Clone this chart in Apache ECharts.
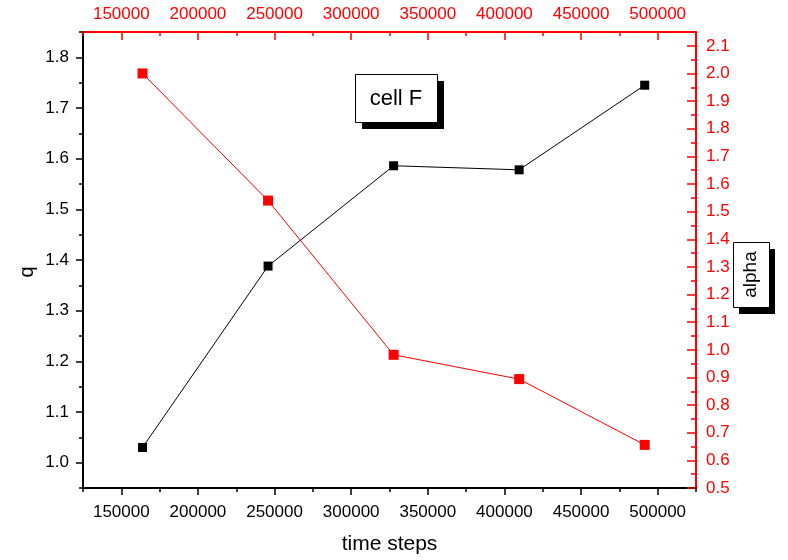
<!DOCTYPE html>
<html>
<head>
<meta charset="utf-8">
<script src="https://cdn.jsdelivr.net/npm/echarts@6/dist/echarts.min.js"></script>
<style>
  html, body { margin: 0; padding: 0; background: #fff; }
  #chart { width: 788px; height: 560px; }
</style>
</head>
<body>
<div id="chart"></div>
<script>
// Simulation time steps shared by both series
const timeSteps = [163840, 245760, 327680, 409600, 491520];
// q (left axis, black)
const qValues = [1.03, 1.388, 1.586, 1.578, 1.745];
// alpha (right axis, red)
const alphaValues = [2.0, 1.54, 0.982, 0.894, 0.656];

// Tick positions
const stepTicks = [150000, 200000, 250000, 300000, 350000, 400000, 450000, 500000];
const stepMinorTicks = [125000, 175000, 225000, 275000, 325000, 375000, 425000, 475000, 525000];
const qTicks = [1.0, 1.1, 1.2, 1.3, 1.4, 1.5, 1.6, 1.7, 1.8];
const qMinorTicks = [0.95, 1.05, 1.15, 1.25, 1.35, 1.45, 1.55, 1.65, 1.75, 1.85];
const alphaTicks = [0.5, 0.6, 0.7, 0.8, 0.9, 1.0, 1.1, 1.2, 1.3, 1.4, 1.5, 1.6, 1.7, 1.8, 1.9, 2.0, 2.1];
const alphaMinorTicks = [0.55, 0.65, 0.75, 0.85, 0.95, 1.05, 1.15, 1.25, 1.35, 1.45, 1.55, 1.65, 1.75, 1.85, 1.95, 2.05, 2.15];

const FONT = 'Liberation Sans, Arial, sans-serif';
const BLACK = '#000000';
const RED = '#ff0000';
const TICK_FONT = 17;

const X_MIN = 125000, X_MAX = 525000;
const Q_MIN = 0.95, Q_MAX = 1.85;
const A_MIN = 0.5, A_MAX = 2.15;

function majorAxis(opts) {
  const color = opts.color;
  return Object.assign({
    type: 'value',
    gridIndex: 0,
    splitLine: { show: false },
    axisLine: { show: true, onZero: false, lineStyle: { color: color, width: 2 } },
    axisTick: {
      show: true, inside: opts.inside, length: opts.tickLen,
      customValues: opts.ticks,
      lineStyle: { color: color, width: 1.5 }
    },
    axisLabel: {
      show: true, customValues: opts.ticks, color: color,
      fontFamily: FONT, fontSize: TICK_FONT, margin: opts.margin,
      formatter: opts.formatter
    }
  }, opts.extra);
}

function minorAxis(opts) {
  return Object.assign({
    type: 'value',
    gridIndex: 0,
    splitLine: { show: false },
    axisLine: { show: false, onZero: false },
    axisLabel: { show: false },
    axisTick: {
      show: true, inside: opts.inside, length: opts.tickLen,
      customValues: opts.ticks,
      lineStyle: { color: opts.color, width: 1.5 }
    }
  }, opts.extra);
}

const chart = echarts.init(document.getElementById('chart'), null, { renderer: 'canvas' });

chart.setOption({
  animation: false,
  backgroundColor: '#ffffff',
  grid: { left: 83, top: 32, right: 92, bottom: 72, containLabel: false },
  xAxis: [
    majorAxis({
      color: BLACK, inside: false, tickLen: 7, margin: 16, ticks: stepTicks,
      formatter: v => String(Math.round(v)),
      extra: {
        position: 'bottom', min: X_MIN, max: X_MAX,
        name: 'time steps', nameLocation: 'middle', nameGap: 46,
        nameTextStyle: { fontFamily: FONT, fontSize: 21, color: BLACK }
      }
    }),
    majorAxis({
      color: RED, inside: true, tickLen: 8, margin: 9, ticks: stepTicks,
      formatter: v => String(Math.round(v)),
      extra: { position: 'top', min: X_MIN, max: X_MAX }
    }),
    minorAxis({ color: BLACK, inside: false, tickLen: 4, ticks: stepMinorTicks,
      extra: { position: 'bottom', min: X_MIN, max: X_MAX } }),
    minorAxis({ color: RED, inside: true, tickLen: 4, ticks: stepMinorTicks,
      extra: { position: 'top', min: X_MIN, max: X_MAX } })
  ],
  yAxis: [
    majorAxis({
      color: BLACK, inside: false, tickLen: 7, margin: 14, ticks: qTicks,
      formatter: v => v.toFixed(1),
      extra: { position: 'left', min: Q_MIN, max: Q_MAX }
    }),
    majorAxis({
      color: RED, inside: true, tickLen: 9, margin: 10, ticks: alphaTicks,
      formatter: v => v.toFixed(1),
      extra: { position: 'right', min: A_MIN, max: A_MAX }
    }),
    minorAxis({ color: BLACK, inside: false, tickLen: 4, ticks: qMinorTicks,
      extra: { position: 'left', min: Q_MIN, max: Q_MAX } }),
    minorAxis({ color: RED, inside: true, tickLen: 5, ticks: alphaMinorTicks,
      extra: { position: 'right', min: A_MIN, max: A_MAX } })
  ],
  series: [
    {
      name: 'q', type: 'line', xAxisIndex: 0, yAxisIndex: 0,
      data: timeSteps.map((t, i) => [t, qValues[i]]),
      symbol: 'rect', symbolSize: 9, showAllSymbol: true,
      lineStyle: { color: BLACK, width: 1 },
      itemStyle: { color: BLACK },
      z: 3
    },
    {
      name: 'alpha', type: 'line', xAxisIndex: 1, yAxisIndex: 1,
      data: timeSteps.map((t, i) => [t, alphaValues[i]]),
      symbol: 'rect', symbolSize: 10, showAllSymbol: true,
      lineStyle: { color: RED, width: 1 },
      itemStyle: { color: RED },
      z: 2
    }
  ],
  graphic: [
    // left axis title
    { type: 'text', x: 27, y: 272, rotation: Math.PI / 2,
      style: { text: 'q', fontFamily: FONT, fontSize: 20, fill: BLACK, align: 'center', verticalAlign: 'middle' }, z: 12 },
    // "cell F" label box with drop shadow
    { type: 'rect', left: 362, top: 81, shape: { width: 82, height: 48 }, style: { fill: BLACK }, z: 10 },
    { type: 'rect', left: 355, top: 74, shape: { width: 82, height: 48 }, style: { fill: '#fff', stroke: BLACK, lineWidth: 1 }, z: 11 },
    { type: 'text', x: 396, y: 99, style: { text: 'cell F', fontFamily: FONT, fontSize: 22, fill: BLACK, align: 'center', verticalAlign: 'middle' }, z: 12 },
    // "alpha" axis title box with drop shadow
    { type: 'rect', left: 739, top: 249, shape: { width: 36, height: 65 }, style: { fill: BLACK }, z: 10 },
    { type: 'rect', left: 733, top: 242, shape: { width: 36, height: 65 }, style: { fill: '#fff', stroke: BLACK, lineWidth: 1 }, z: 11 },
    { type: 'text', x: 751, y: 274.5, rotation: Math.PI / 2,
      style: { text: 'alpha', fontFamily: FONT, fontSize: 19, fill: BLACK, align: 'center', verticalAlign: 'middle' }, z: 12 }
  ]
});
</script>
</body>
</html>
